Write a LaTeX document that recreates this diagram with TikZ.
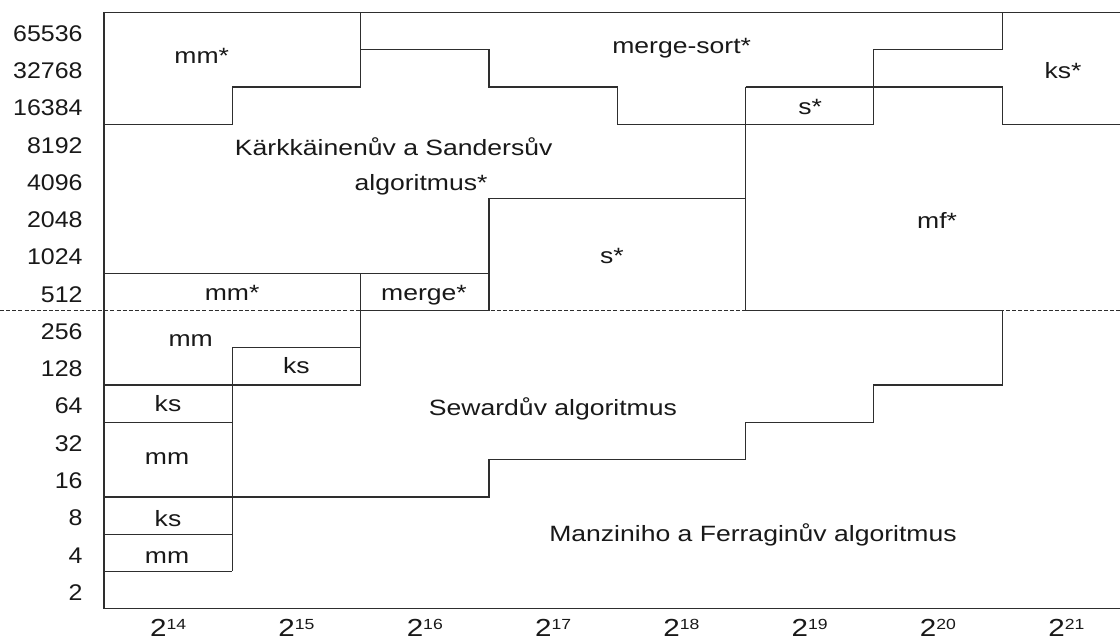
\documentclass[tikz,border=0pt]{standalone}
\usepackage{fontspec}
\setmainfont[FakeStretch=1.2]{Liberation Sans}
\newfontfamily\ylabfont[FakeStretch=1.1]{Liberation Sans}
\newcommand{\xlab}[1]{\fontsize{18.5}{20}\selectfont 2\raisebox{5.4pt}{\fontsize{11}{12}\selectfont #1}}
\begin{document}
\begin{tikzpicture}[x=96.225pt,y=27.953pt]
\tikzset{
  ln/.style={line width=0.95pt, draw=black!82, line join=miter},
  dsh/.style={line width=0.75pt, draw=black!82, dash pattern=on 3pt off 1.6pt},
  lbl/.style={font=\fontsize{16.6}{20}\selectfont, inner sep=0pt, anchor=base, text=black!90},
  ylab/.style={lbl, font=\ylabfont\fontsize{17}{20}\selectfont, anchor=base east},
}
\useasboundingbox (-0.8106,-0.8666) rectangle (7.9185,16.332);
\fill[white] (-0.8106,-0.8666) rectangle (7.9185,16.332);
% dashed separator
\draw[dsh] (-0.8106,8) -- (7.9185,8);
% frame
\draw[ln] (7.9185,16) -- (0,16) -- (0,0) -- (7.9185,0);
% upper regions
\draw[ln] (0,13) -- (1,13) -- (1,14) -- (2,14) -- (2,16);
\draw[ln] (2,15) -- (3,15) -- (3,14) -- (4,14) -- (4,13) -- (6,13) -- (6,15) -- (7,15) -- (7,16);
\draw[ln] (5,14) -- (7,14) -- (7,13) -- (7.9185,13);
\draw[ln] (5,14) -- (5,8);
\draw[ln] (5,11) -- (3,11) -- (3,8);
\draw[ln] (0,9) -- (3,9);
\draw[ln] (2,9) -- (2,6);
\draw[ln] (2,8) -- (3,8);
% lower regions
\draw[ln] (5,8) -- (7,8) -- (7,6) -- (6,6) -- (6,5) -- (5,5) -- (5,4) -- (3,4) -- (3,3) -- (0,3);
\draw[ln] (1,7) -- (2,7);
\draw[ln] (1,7) -- (1,1);
\draw[ln] (0,6) -- (2,6);
\draw[ln] (0,5) -- (1,5);
\draw[ln] (0,2) -- (1,2);
\draw[ln] (0,1) -- (1,1);
% region labels
\node[lbl] (t1) at (0.762,14.615) {mm*};
\node[lbl] (t2) at (2.258,12.17) {Kärkkäinenův a Sandersův};
\node[lbl] (t3) at (2.471,11.215) {algoritmus*};
\node[lbl] (t4) at (4.502,14.90) {merge-sort*};
\node[lbl] (t5) at (7.475,14.23) {ks*};
\node[lbl] (t6) at (5.503,13.27) {s*};
\node[lbl] (t7) at (6.493,10.206) {mf*};
\node[lbl] (t8) at (3.959,9.268) {s*};
\node[lbl] (t9) at (0.998,8.283) {mm*};
\node[lbl] (t10) at (2.494,8.283) {merge*};
\node[lbl] (t11) at (0.676,7.03) {mm};
\node[lbl] (t12) at (1.50,6.316) {ks};
\node[lbl] (t13) at (0.499,5.305) {ks};
\node[lbl] (t14) at (0.491,3.882) {mm};
\node[lbl] (t15) at (0.499,2.20) {ks};
\node[lbl] (t16) at (0.491,1.218) {mm};
\node[lbl] (t17) at (3.499,5.197) {Sewardův algoritmus};
\node[lbl] (t18) at (5.058,1.798) {Manziniho a Ferraginův algoritmus};
% y axis labels
\foreach \i/\v in {1/2,2/4,3/8,4/16,5/32,6/64,7/128,8/256,9/512,10/1024,11/2048,12/4096,13/8192,14/16384,15/32768,16/65536}
  \node[ylab] (y\i) at (-0.165,\i-0.775) {\v};
% x axis labels
\foreach \j/\e in {0/14,1/15,2/16,3/17,4/18,5/19,6/20,7/21}
  \node[lbl] (x\j) at (\j+0.5,-0.745) {\xlab{\e}};
\end{tikzpicture}
\end{document}
